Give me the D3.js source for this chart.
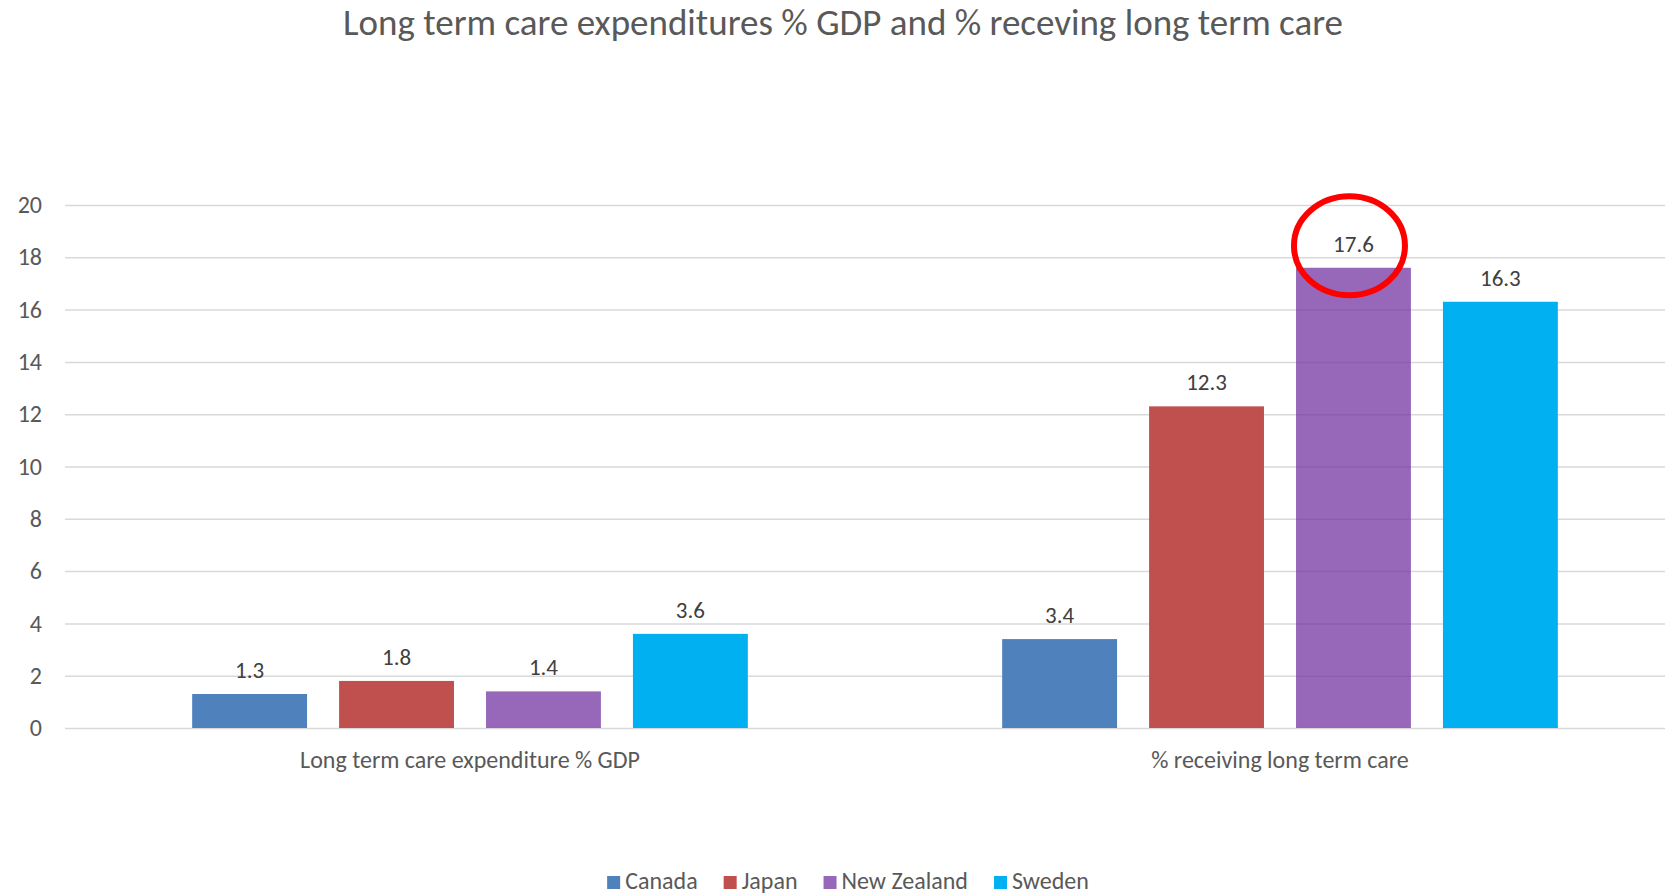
<!DOCTYPE html>
<html>
<head>
<meta charset="utf-8">
<script src="https://cdn.jsdelivr.net/npm/d3@7"></script>
<style>
  html, body { margin: 0; padding: 0; background: #fff; }
  svg { display: block; font-family: Carlito, Calibri, Lato, sans-serif; }
</style>
</head>
<body>
<svg id="chart" width="1665" height="895"></svg>
<script>
// Chart data
const chartTitle = "Long term care expenditures % GDP and % receving long term care";
const categories = ["Long term care expenditure % GDP", "% receiving long term care"];
const countries = ["Canada", "Japan", "New Zealand", "Sweden"];
const expenditurePctGDP = [1.3, 1.8, 1.4, 3.6];
const receivingCarePct = [3.4, 12.3, 17.6, 16.3];
const yTicks = [0, 2, 4, 6, 8, 10, 12, 14, 16, 18, 20];
const highlighted = { category: "% receiving long term care", country: "New Zealand" };

const seriesByCategory = [expenditurePctGDP, receivingCarePct];
const colors = d3.scaleOrdinal()
  .domain(countries)
  .range(["#4f81bd", "#c0504d", "rgba(112,48,160,0.73)", "#00b0f0"]);

const W = 1665, H = 895;
const svg = d3.select("#chart");

const plot = { left: 65, right: 1685, top: 205, bottom: 728 };

const x0 = d3.scaleBand().domain(categories).range([plot.left, plot.right]);
const groupInset = x0.bandwidth() * 0.157;
const x1 = d3.scaleBand().domain(countries)
  .range([groupInset, x0.bandwidth() - groupInset])
  .paddingInner(0.218).paddingOuter(0);
const y = d3.scaleLinear().domain([0, 20]).range([plot.bottom, plot.top]);

// Title
svg.append("text")
  .attr("x", 843).attr("y", 35)
  .attr("text-anchor", "middle")
  .attr("font-size", 37)
  .attr("fill", "#595959")
  .text(chartTitle);

// Value axis with gridlines
const yAxis = svg.append("g")
  .attr("transform", `translate(${plot.left},0)`)
  .call(d3.axisLeft(y).tickValues(yTicks).tickSize(-(W - plot.left)).tickPadding(23));
yAxis.select(".domain").remove();
yAxis.selectAll(".tick line").attr("stroke", "#d9d9d9").attr("stroke-width", 1.5);
yAxis.selectAll(".tick text")
  .attr("fill", "#595959")
  .attr("font-size", 24)
  .attr("font-family", "Carlito, Calibri, Lato, sans-serif");

// Bars
const rows = [];
categories.forEach((c, ci) => {
  countries.forEach((k, ki) => rows.push({ category: c, country: k, value: seriesByCategory[ci][ki] }));
});

const groups = svg.append("g").selectAll("g")
  .data(categories).join("g")
  .attr("transform", d => `translate(${x0(d)},0)`);

groups.selectAll("rect")
  .data(c => rows.filter(r => r.category === c))
  .join("rect")
  .attr("x", d => x1(d.country))
  .attr("y", d => y(d.value))
  .attr("width", x1.bandwidth())
  .attr("height", d => y(0) - y(d.value))
  .attr("fill", d => colors(d.country));

// Data labels
groups.selectAll("text.value")
  .data(c => rows.filter(r => r.category === c))
  .join("text")
  .attr("class", "value")
  .attr("x", d => x1(d.country) + x1.bandwidth() / 2)
  .attr("y", d => y(d.value) - 16)
  .attr("text-anchor", "middle")
  .attr("font-size", 23)
  .attr("fill", "#404040")
  .text(d => d3.format(".1f")(d.value));

// Category axis labels
svg.append("g").selectAll("text")
  .data(categories).join("text")
  .attr("x", d => x0(d) + x0.bandwidth() / 2)
  .attr("y", 768)
  .attr("text-anchor", "middle")
  .attr("font-size", 24)
  .attr("fill", "#595959")
  .text(d => d);

// Highlight ring around the largest value
const hi = rows.find(r => r.category === highlighted.category && r.country === highlighted.country);
svg.append("ellipse")
  .attr("cx", x0(hi.category) + x1(hi.country) + x1.bandwidth() / 2 - 4)
  .attr("cy", y(hi.value) - 22)
  .attr("rx", 55.5).attr("ry", 49.5)
  .attr("fill", "none")
  .attr("stroke", "#ff0000")
  .attr("stroke-width", 6);

// Legend along the bottom edge
const legend = svg.append("g");
const items = legend.selectAll("g").data(countries).join("g");
items.append("rect").attr("width", 13).attr("height", 13).attr("y", -13)
  .attr("fill", d => colors(d));
items.append("text").attr("x", 18).attr("y", 0)
  .attr("font-size", 24).attr("fill", "#595959").text(d => d);
let cursor = 0;
items.each(function () {
  const w = 18 + this.querySelector("text").getComputedTextLength();
  this.setAttribute("transform", `translate(${cursor},0)`);
  cursor += w + 26;
});
const legendWidth = cursor - 26;
legend.attr("transform", `translate(${848 - legendWidth / 2},889)`);
</script>
</body>
</html>
